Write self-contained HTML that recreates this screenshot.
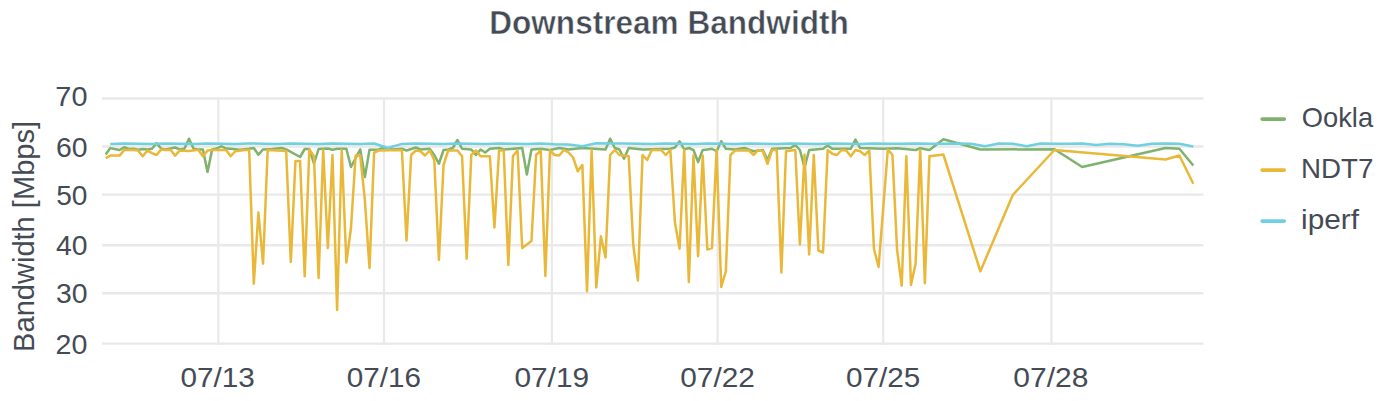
<!DOCTYPE html>
<html lang="en"><head><meta charset="utf-8"><title>Downstream Bandwidth</title>
<style>html,body{margin:0;padding:0;background:#fff}body{width:1385px;height:401px;overflow:hidden}</style></head>
<body>
<svg width="1385" height="401" viewBox="0 0 1385 401" style="display:block;font-family:'Liberation Sans',sans-serif">
<rect width="1385" height="401" fill="#ffffff"/>
<g stroke="#e9e9e9" stroke-width="2.4" fill="none">
<line x1="102" y1="98.5" x2="1203.4" y2="98.5"/>
<line x1="102" y1="146.5" x2="1203.4" y2="146.5"/>
<line x1="102" y1="194.6" x2="1203.4" y2="194.6"/>
<line x1="102" y1="245.3" x2="1203.4" y2="245.3"/>
<line x1="102" y1="293.3" x2="1203.4" y2="293.3"/>
<line x1="102" y1="343.6" x2="1203.4" y2="343.6"/>
<line x1="218.3" y1="97.3" x2="218.3" y2="344.8" stroke-width="2.2"/>
<line x1="384.0" y1="97.3" x2="384.0" y2="344.8" stroke-width="2.2"/>
<line x1="551.9" y1="97.3" x2="551.9" y2="344.8" stroke-width="2.2"/>
<line x1="717.6" y1="97.3" x2="717.6" y2="344.8" stroke-width="2.2"/>
<line x1="883.2" y1="97.3" x2="883.2" y2="344.8" stroke-width="2.2"/>
<line x1="1051.4" y1="97.3" x2="1051.4" y2="344.8" stroke-width="2.2"/>
</g>
<g fill="none" stroke-width="2.5" stroke-linejoin="round" stroke-linecap="butt">
<polyline stroke="#7EB26D" points="105.7,154.4 110.33,148.1 119.58,150 124.21,147.25 128.84,149 133.47,148.75 138.1,149.75 142.72,149 147.35,149.4 151.98,148.75 156.61,143.1 161.24,148.75 165.86,149.4 175.12,147.5 179.75,149.4 184.38,148.75 189.0,138.75 193.63,148.75 198.26,149.4 202.89,149.4 207.52,171.9 212.14,149.4 216.77,148.5 221.4,146.25 226.03,148.5 230.66,148.75 239.91,149.75 249.17,148.75 253.8,148 258.42,154.75 263.05,149.4 272.31,149 281.56,148 286.19,149.4 300.08,157 304.7,149 309.33,149 313.96,163.75 318.59,149 327.84,148.5 332.47,149.75 337.1,148.75 346.36,148.75 350.98,167 360.24,149.4 364.87,177 369.5,149.75 378.75,149.4 383.38,147.75 392.64,149.5 401.89,148.75 406.52,150.5 415.78,147.5 420.4,149.5 429.66,148.75 434.29,155 438.92,163.75 443.54,150 448.17,149.5 452.8,148 457.43,140 462.06,148.75 471.31,149.5 475.94,155 480.57,149.5 485.2,152.5 489.82,148.75 499.08,148 503.71,149.5 512.96,148.75 522.22,148 526.85,174.5 531.48,149.5 540.73,148.75 549.99,150 559.24,148 568.5,149.5 582.38,148 605.52,149.5 610.15,138.75 614.78,148 619.41,149.5 624.04,158.75 628.66,148 642.55,149.5 670.32,148.75 674.94,147.5 679.57,141.25 684.2,149.5 688.83,148 693.46,150 698.08,162 702.71,150 707.34,149.4 711.97,148.75 716.6,151.25 721.22,141.25 725.85,148.75 735.11,149.5 744.36,148 753.62,151.25 762.88,150 767.5,160 772.13,148.75 790.64,148 795.27,145 799.9,150 804.53,167.5 809.16,150 823.04,148.75 827.67,145.5 832.3,148.75 850.81,148.75 855.44,139.5 860.06,148 883.2,148.75 897.09,148.25 915.6,150 920.23,148.25 929.48,150 943.37,139.25 980.39,149.5 1054.44,149.25 1082.21,167 1165.51,148 1179.4,148.75 1193.28,165.5"/>
<polyline stroke="#EAB839" points="105.7,158.1 110.33,155.6 119.58,155.6 124.21,150 133.47,150 138.1,150.6 142.72,156.25 147.35,150.6 151.98,153.1 156.61,155 161.24,149.4 165.86,150 170.49,149.75 175.12,155.6 179.75,150.6 189.0,151 198.26,149.75 202.89,156.25 207.52,150.6 212.14,150 226.03,150 230.66,156.25 235.28,151.25 244.54,150 249.17,150 253.8,283.75 258.42,212.5 263.05,263.75 267.68,150 286.19,151 290.82,262 295.45,161 300.08,161 304.7,276.25 309.33,149.4 313.96,156.25 318.59,278 323.22,150 327.84,248 332.47,155 337.1,310 341.73,150 346.36,262.5 350.98,228 355.61,155.6 360.24,155.6 364.87,200 369.5,268 374.12,152.5 378.75,150.5 401.89,150 406.52,240.5 411.15,155 415.78,150.5 420.4,151.25 425.03,155.5 429.66,150.5 434.29,160 438.92,260 443.54,165 448.17,150.5 457.43,150.5 462.06,156.25 466.68,258.75 471.31,155 475.94,150.5 480.57,156.25 489.82,156.25 494.45,227.5 499.08,150.5 503.71,150.5 508.34,265 512.96,156 517.59,150.5 522.22,248 531.48,241 536.1,155 540.73,150.5 545.36,276 549.99,150.5 554.62,155 559.24,155.5 563.87,150 568.5,152.5 573.13,157.5 577.76,171.25 582.38,165 587.01,291.25 591.64,150 596.27,287.5 600.9,236.25 605.52,257.5 610.15,155 614.78,150 619.41,155 628.66,156.25 633.29,245 637.92,280.5 642.55,155 647.18,160 651.8,150 661.06,150 665.69,155 670.32,150 674.94,222.5 679.57,248.75 684.2,150 688.83,282 693.46,155.5 698.08,256.25 702.71,155.5 707.34,249.5 711.97,248 716.6,150 721.22,287 725.85,271.25 730.48,155 735.11,150.5 748.99,150.5 753.62,155 758.25,150 762.88,151.25 767.5,163.75 772.13,150 776.76,150 781.39,272.5 786.02,151.25 795.27,150 799.9,244.5 804.53,154.5 809.16,254.5 813.78,155 818.41,250.5 823.04,252.5 827.67,150 832.3,153.75 836.92,155 841.55,150 846.18,150.5 850.81,156.25 855.44,150 860.06,151.25 864.69,155 869.32,150.5 873.95,248.75 878.58,267 887.83,149.5 892.46,155 897.09,250 901.72,285.75 906.34,156.25 910.97,285 915.6,263.75 920.23,150 924.86,283.25 929.48,156.25 943.37,154.5 980.39,271.25 1012.79,195 1054.44,150 1165.51,159.5 1179.4,155.5 1193.28,183.75"/>
<polyline stroke="#6ED0E0" points="110.33,143.92 124.21,143.49 138.1,143.69 151.98,143.92 165.86,143.49 179.75,143.7 193.63,143.92 207.52,143.48 221.4,143.7 235.28,143.92 249.17,143.48 263.05,143.7 276.94,143.91 290.82,143.48 304.7,143.71 318.59,143.91 332.47,143.48 346.36,143.71 360.24,143.91 374.12,143.48 388.01,148.0 401.89,143.91 415.78,143.47 429.66,143.72 443.54,143.9 457.43,143.47 471.31,143.73 485.2,143.9 499.08,143.47 512.96,143.73 526.85,143.9 540.73,143.47 554.62,144.3 568.5,144.6 582.38,146.2 596.27,143.3 610.15,143.6 624.04,143.47 637.92,143.74 651.8,143.89 665.69,143.46 679.57,143.75 693.46,143.89 707.34,143.46 721.22,143.75 735.11,143.89 748.99,143.46 762.88,143.75 776.76,143.88 790.64,143.46 804.53,143.76 818.41,143.88 832.3,143.46 846.18,143.76 860.06,143.88 873.95,143.46 887.83,143.77 901.72,143.87 915.6,143.46 929.48,143.77 943.37,143.87 957.25,143.46 971.14,143.77 985.02,146.25 998.9,143.46 1012.79,143.78 1026.67,146.25 1040.56,143.45 1054.44,143.78 1068.32,143.86 1082.21,143.45 1096.09,145.0 1109.98,143.86 1123.86,144.3 1137.74,145.75 1151.63,143.86 1165.51,143.45 1179.4,143.79 1193.28,146.4"/>
</g>
<g fill="none" stroke-width="3.6" stroke-linecap="round">
<line x1="1262.1" y1="119.1" x2="1284.3" y2="119.1" stroke="#7EB26D"/>
<line x1="1262.1" y1="170.1" x2="1284.3" y2="170.1" stroke="#EAB839"/>
<line x1="1262.1" y1="221.1" x2="1284.3" y2="221.1" stroke="#6ED0E0"/>
</g>
<g fill="#444b55">
<text x="1301.82" y="126.60" font-size="28.5px" textLength="71.28" lengthAdjust="spacingAndGlyphs">Ookla</text>
<text x="1301.04" y="177.50" font-size="28.5px" textLength="72.38" lengthAdjust="spacingAndGlyphs">NDT7</text>
<text x="1301.03" y="228.50" font-size="28.5px" textLength="57.97" lengthAdjust="spacingAndGlyphs">iperf</text>
<text x="55.38" y="105.60" font-size="28px" textLength="32.12" lengthAdjust="spacingAndGlyphs">70</text>
<text x="55.90" y="156.70" font-size="28px" textLength="31.58" lengthAdjust="spacingAndGlyphs">60</text>
<text x="56.18" y="204.70" font-size="28px" textLength="31.29" lengthAdjust="spacingAndGlyphs">50</text>
<text x="55.96" y="254.70" font-size="28px" textLength="31.52" lengthAdjust="spacingAndGlyphs">40</text>
<text x="55.92" y="302.80" font-size="28px" textLength="31.56" lengthAdjust="spacingAndGlyphs">30</text>
<text x="55.64" y="353.60" font-size="28px" textLength="31.86" lengthAdjust="spacingAndGlyphs">20</text>
<text x="180.56" y="386.60" font-size="28px" textLength="74.34" lengthAdjust="spacingAndGlyphs">07/13</text>
<text x="346.76" y="386.60" font-size="28px" textLength="74.33" lengthAdjust="spacingAndGlyphs">07/16</text>
<text x="514.46" y="386.60" font-size="28px" textLength="74.58" lengthAdjust="spacingAndGlyphs">07/19</text>
<text x="680.26" y="386.60" font-size="28px" textLength="74.60" lengthAdjust="spacingAndGlyphs">07/22</text>
<text x="845.97" y="386.60" font-size="28px" textLength="74.32" lengthAdjust="spacingAndGlyphs">07/25</text>
<text x="1013.34" y="386.60" font-size="28px" textLength="75.10" lengthAdjust="spacingAndGlyphs">07/28</text>
<text transform="translate(33.90,351.89) rotate(-90)" font-size="29px" textLength="230.93" lengthAdjust="spacingAndGlyphs">Bandwidth [Mbps]</text>
<text x="489.25" y="34.30" font-size="32.5px" textLength="359.50" lengthAdjust="spacingAndGlyphs" font-weight="bold" stroke="#ffffff" stroke-width="0.5">Downstream Bandwidth</text>
</g>
</svg>
</body></html>
